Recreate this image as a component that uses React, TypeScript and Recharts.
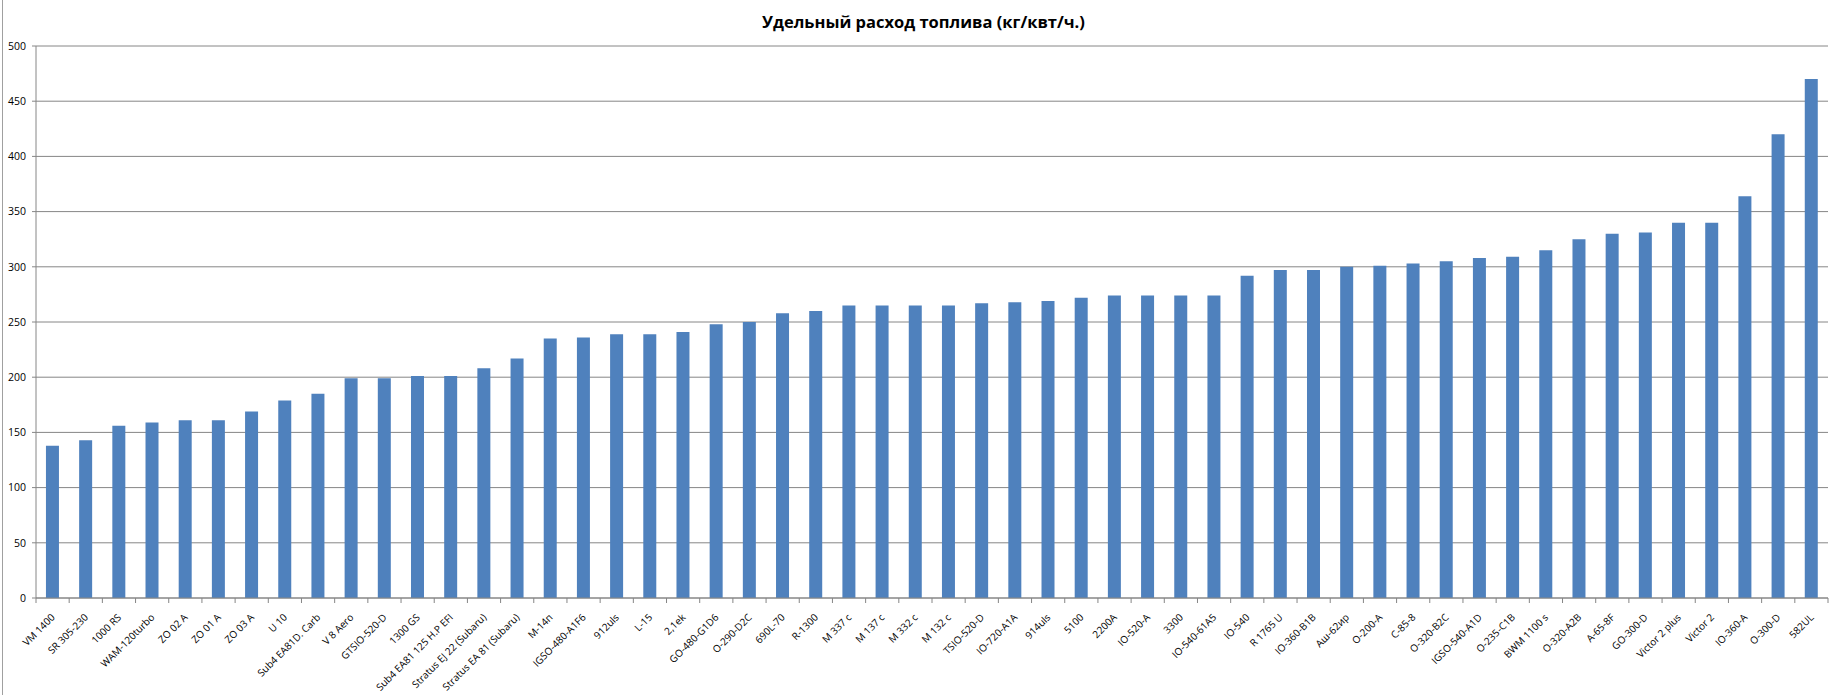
import React from "react";
import { BarChart, Bar, XAxis, YAxis, CartesianGrid } from "recharts";

const categories = [
  "VM 1400", "SR 305-230", "1000 RS", "WAM-120turbo", "ZO 02 A", "ZO 01 A", "ZO 03 A", "U 10",
  "Sub4 EA81D. Carb", "V 8 Aero", "GTSIO-520-D", "1300 GS", "Sub4 EA81 125 H.P EFI",
  "Stratus EJ 22 (Subaru)", "Stratus EA 81 (Subaru)", "M-14п", "IGSO-480-A1F6", "912uls", "L-15",
  "2,1ek", "GO-480-G1D6", "O-290-D2C", "690L-70", "R-1300", "M 337 c", "M 137 c", "M 332 c",
  "M 132 c", "TSIO-520-D", "IO-720-A1A", "914uls", "5100", "2200A", "IO-520-A", "3300",
  "IO-540-61A5", "IO-540", "R 1765 U", "IO-360-B1B", "Аш-62ир", "O-200-A", "C-85-8", "O-320-B2C",
  "IGSO-540-A1D", "O-235-C1B", "BWM 1100 s", "O-320-A2B", "A-65-8F", "GO-300-D", "Victor 2 plus",
  "Victor 2", "IO-360-A", "O-300-D", "582UL",
];

const consumption = [
  138, 143, 156, 159, 161, 161, 169, 179,
  185, 199, 199, 201, 201,
  208, 217, 235, 236, 239, 239,
  241, 248, 250, 258, 260, 265, 265, 265,
  265, 267, 268, 269, 272, 274, 274, 274,
  274, 292, 297, 297, 300, 301, 303, 305,
  308, 309, 315, 325, 330, 331, 340,
  340, 364, 420, 470,
];

const yTicks = [0, 50, 100, 150, 200, 250, 300, 350, 400, 450, 500];

const title = "Удельный расход топлива (кг/квт/ч.)";

const W = 1840;
const H = 695;
const LEFT = 36;
const RIGHT = 12;
const TOP = 46;
const XAXIS_H = 97;
const AXIS_Y = H - XAXIS_H;
const PLOT_W = W - LEFT - RIGHT;
const GRID = "#868686";
const FONT = "'Open Sans', sans-serif";

const data = categories.map((name, i) => ({ name, value: consumption[i] }));

const XTick = (props: any) => {
  const { x, payload, index } = props;
  const band = PLOT_W / categories.length;
  const px = x + 3;
  const py = AXIS_Y + 20;
  return (
    <g>
      <line x1={x - band / 2} x2={x - band / 2} y1={AXIS_Y} y2={AXIS_Y + 5} stroke={GRID} />
      {index === categories.length - 1 && (
        <line x1={x + band / 2} x2={x + band / 2} y1={AXIS_Y} y2={AXIS_Y + 5} stroke={GRID} />
      )}
      <text
        x={px}
        y={py}
        transform={`rotate(-45 ${px} ${py})`}
        textAnchor="end"
        fontSize={10}
        fontFamily={FONT}
        fill="#000"
      >
        {payload.value}
      </text>
    </g>
  );
};

const YTick = (props: any) => {
  const { x, y, payload } = props;
  return (
    <text x={x} y={y} dy={3.7} textAnchor="end" fontSize={10.5} fontFamily={FONT} fill="#000">
      {payload.value}
    </text>
  );
};

export default function App() {
  return (
    <div style={{ position: "fixed", left: 0, top: 0, width: W, height: H, background: "#fff" }}>
      <BarChart
        width={W}
        height={H}
        data={data}
        margin={{ top: TOP, right: RIGHT, bottom: 0, left: 0 }}
        barCategoryGap="30%"
      >
        <CartesianGrid stroke={GRID} vertical={false} />
        <XAxis
          dataKey="name"
          interval={0}
          height={XAXIS_H}
          tickLine={false}
          axisLine={{ stroke: GRID }}
          tick={<XTick />}
        />
        <YAxis
          width={LEFT}
          domain={[0, 500]}
          ticks={yTicks}
          tickSize={4}
          tickMargin={6}
          tickLine={{ stroke: GRID }}
          axisLine={{ stroke: GRID }}
          tick={<YTick />}
        />
        <Bar dataKey="value" fill="#4F81BD" isAnimationActive={false} />
      </BarChart>
      <svg
        width={W}
        height={H}
        style={{ position: "absolute", left: 0, top: 0, pointerEvents: "none" }}
      >
        <line x1={2.5} x2={2.5} y1={0} y2={H} stroke="#a0a0a0" />
        <text
          x={923.5}
          y={28}
          textAnchor="middle"
          fontSize={16.5}
          fontWeight="bold"
          fontFamily={FONT}
          fill="#000"
        >
          {title}
        </text>
      </svg>
    </div>
  );
}
